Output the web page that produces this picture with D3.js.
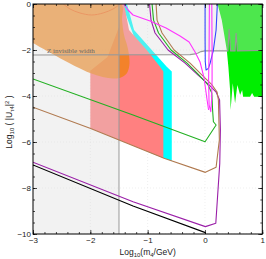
<!DOCTYPE html>
<html><head><meta charset="utf-8">
<script src="https://cdn.jsdelivr.net/npm/d3@7"></script>
<style>body{margin:0;background:#fff}svg{display:block}</style>
</head><body><svg id="c" width="266" height="259"></svg>
<script>
const xTicks=[-3,-2,-1,0,1];
const yTicks=[0,-2,-4,-6,-8,-10];
const zLine=[[-3,-2.22],[-0.26,-2.20],[-0.17,-2.17],[-0.12,-2.13],[-0.07,-2.07],[0.0,-2.04],[0.40,-2.04],[0.421,-1.09],[0.447,-2.04],[0.525,-2.04],[0.543,-1.26],[0.565,-2.04],[1,-2.02]];
const zCut=-1.5;
const orangeRegion=[[-3,0],[-1.464,0],[-1.447,-0.696],[-1.412,-1.348],[-1.36,-1.783],[-1.325,-2.217],[-1.319,-2.652],[-1.36,-3.0],[-1.447,-3.174],[-1.604,-3.239],[-2.005,-3.0],[-3,-1.696]];
const redRegion=[[-1.412,0],[-1.325,-1.13],[-1.016,-2.0],[-0.784,-2.73],[-0.726,-2.94],[-0.726,-6.70],[-2.0,-5.40],[-2.0,-2.9],[-1.7,-2.3],[-1.5,-1.0],[-1.48,0]];
const cyanRegion=[[-1.45,0],[-1.36,0],[-1.237,-1.13],[-0.928,-2.0],[-0.667,-2.73],[-0.579,-2.94],[-0.579,-6.83],[-1.0,-6.42],[-1.0,-3.0]];
const greenRegion=[[0.22,0],[0.293,-0.696],[0.351,-1.565],[0.38,-2.0],[0.408,-2.73],[0.438,-3.74],[0.447,-4.61],[0.485,-3.45],[0.525,-4.32],[0.565,-3.52],[0.613,-3.96],[0.648,-3.74],[0.665,-4.03],[0.787,-4.03],[0.822,-3.87],[0.857,-4.03],[1,-4.03],[1,0]];
const greenLine=[[-3,-3.26],[-1.255,-4.83],[0.002,-5.99],[0.194,-5.26],[0.147,-5.12],[0.133,-4.61],[0.119,-3.87],[0.054,-3.52],[-0.103,-3.09],[-0.312,-2.57],[-0.592,-2.0],[-0.810,-1.26],[-0.897,-0.70],[-0.923,0]];
const brownLine=[[-3,-4.49],[-2.005,-5.40],[-0.714,-6.71],[0.007,-7.32],[0.194,-7.10],[0.251,-5.91],[0.234,-4.17],[0.211,-3.83],[0.124,-3.52],[-0.051,-3.09],[-0.26,-2.57],[-0.539,-2.0],[-0.749,-1.26],[-0.836,-0.70],[-0.853,0]];
const purpleLine=[[-3,-6.88],[-1.255,-8.60],[0.007,-9.68],[0.189,-9.53],[0.258,-6.93],[0.269,-5.48],[0.255,-4.17],[0.194,-3.83],[0.072,-3.52],[-0.120,-3.09],[-0.347,-2.57],[-0.644,-2.0],[-0.871,-1.26],[-0.941,-0.70],[-0.967,0]];
const blackLine=[[-3,-7.0],[-1.255,-8.78],[0.007,-9.94]];
const blueLine=[[0.002,0],[0.002,-1.5],[0.005,-2.5],[0.019,-2.87],[0.06,-2.8],[0.089,-2.58],[0.147,-2.0],[0.194,-1.13],[0.216,0]];
const magentaA=[[-1.412,0],[-1.342,-0.261],[-1.255,-0.478],[-0.958,-0.739],[-0.679,-1.043],[-0.435,-1.391],[-0.277,-1.652],[-0.173,-2.087],[-0.086,-2.522],[-0.016,-3.217],[0.037,-4.174],[0.063,-4.609]];
const magentaB=[[0.077,0],[0.072,-2.0],[0.063,-3.304],[0.072,-4.391],[0.101,-4.683],[0.115,-4.174],[0.124,-3.304],[0.124,-2.0],[0.119,0]];
const magentaArc=[[-2.47,0],[-2.354,-0.217],[-2.18,-0.391],[-1.976,-0.478],[-1.778,-0.391],[-1.604,-0.217],[-1.482,0]];

const svg=d3.select("#c");
const L=33,R=262.3,T=4,B=234;
const x=d3.scaleLinear().domain([-3,1]).range([L,R]);
const y=d3.scaleLinear().domain([-10,0]).range([B,T]);
const line=d3.line().x(d=>x(d[0])).y(d=>y(d[1]));
const smooth=d3.line().x(d=>x(d[0])).y(d=>y(d[1])).curve(d3.curveCatmullRom);

svg.append("defs").append("clipPath").attr("id","pc").append("rect").attr("x",L).attr("y",T).attr("width",R-L).attr("height",B-T);
const g=svg.append("g").attr("clip-path","url(#pc)");
g.append("rect").attr("x",L).attr("y",T).attr("width",R-L).attr("height",B-T).attr("fill","#fff");

g.selectAll(".gx").data(xTicks).join("line").attr("x1",d=>x(d)).attr("x2",d=>x(d)).attr("y1",T).attr("y2",B).attr("stroke","#e4e4e4").attr("stroke-width",0.6).attr("stroke-dasharray","1,2");
g.selectAll(".gy").data(yTicks).join("line").attr("y1",d=>y(d)).attr("y2",d=>y(d)).attr("x1",L).attr("x2",R).attr("stroke","#e4e4e4").attr("stroke-width",0.6).attr("stroke-dasharray","1,2");

g.append("path").attr("d",line(greenRegion)+"Z").attr("fill","#00ee00");
g.append("path").attr("d",line(cyanRegion)+"Z").attr("fill","#00ffff");
g.append("path").attr("d",line(redRegion)+"Z").attr("fill","#ff8080");
g.append("path").attr("d",smooth(magentaArc)).attr("fill","none").attr("stroke","#ff3060").attr("stroke-width",1);
g.append("path").attr("d",smooth(orangeRegion)+"Z").attr("fill","rgb(240,130,20)").attr("fill-opacity",0.8);

const zRight=zLine.filter(d=>d[0]>zCut).slice().reverse();
const grayPoly=[[-3,0],[1,0],...zRight,[zCut,-2.21],[zCut,-10],[-3,-10]];
g.append("path").attr("d",line(grayPoly)+"Z").attr("fill","rgb(218,218,218)").attr("fill-opacity",0.354);

g.append("line").attr("x1",x(zCut)).attr("x2",x(zCut)).attr("y1",T).attr("y2",B).attr("stroke","#999").attr("stroke-width",1);
g.append("path").attr("d",line(zLine)).attr("fill","none").attr("stroke","#999").attr("stroke-width",1.1);

const curves=[[blackLine,"#000"],[purpleLine,"#9a1fa8"],[brownLine,"#b07a50"],[greenLine,"#22b022"],[blueLine,"#3344ff"],[magentaA,"#ff33ff"],[magentaB,"#ff33ff"]];
curves.forEach(([d,c])=>g.append("path").attr("d",line(d)).attr("fill","none").attr("stroke",c).attr("stroke-width",1.1).attr("stroke-linejoin","round"));

svg.append("text").attr("x",47).attr("y",53).attr("font-family","Liberation Serif, serif").attr("font-size",7).attr("fill","#666").text("Z invisible width");

svg.append("rect").attr("x",L).attr("y",T).attr("width",R-L).attr("height",B-T).attr("fill","none").attr("stroke","#000").attr("stroke-width",1);
const xMinor=d3.range(-3,1.001,0.2).map(v=>+v.toFixed(2));
const yMinor=d3.range(-10,0.001,0.5).map(v=>+v.toFixed(2));
const fmt=d3.format("d");
function ax(gen,tr){return svg.append("g").attr("transform",tr).call(gen).call(s=>s.select(".domain").remove()).call(s=>s.selectAll("text").attr("font-family","Liberation Sans, Arial, sans-serif").attr("font-size",8).attr("fill","#222"));}
ax(d3.axisBottom(x).tickValues(xMinor).tickSize(-2).tickFormat(""),`translate(0,${B})`);
ax(d3.axisBottom(x).tickValues(xTicks).tickSize(-4).tickPadding(3).tickFormat(fmt),`translate(0,${B})`);
ax(d3.axisTop(x).tickValues(xMinor).tickSize(-2).tickFormat(""),`translate(0,${T})`);
ax(d3.axisTop(x).tickValues(xTicks).tickSize(-4).tickFormat(""),`translate(0,${T})`);
ax(d3.axisLeft(y).tickValues(yMinor).tickSize(-2).tickFormat(""),`translate(${L},0)`);
ax(d3.axisLeft(y).tickValues(yTicks).tickSize(-4).tickPadding(2).tickFormat(fmt),`translate(${L},0)`);
ax(d3.axisRight(y).tickValues(yMinor).tickSize(-2).tickFormat(""),`translate(${R},0)`);
ax(d3.axisRight(y).tickValues(yTicks).tickSize(-4).tickFormat(""),`translate(${R},0)`);
svg.selectAll(".tick line").attr("stroke","#000").attr("stroke-width",0.7);

const xt=svg.append("text").attr("x",(L+R)/2).attr("y",255).attr("text-anchor","middle").attr("font-family","Liberation Sans, Arial, sans-serif").attr("font-size",8.5).attr("fill","#222");
xt.append("tspan").text("Log");xt.append("tspan").attr("font-size",6).attr("dy",2).text("10");xt.append("tspan").attr("dy",-2).text("(m");xt.append("tspan").attr("font-size",6).attr("dy",2).text("4");xt.append("tspan").attr("dy",-2).text("/GeV)");
const yt=svg.append("text").attr("transform","translate(12,122) rotate(-90)").attr("text-anchor","middle").attr("font-family","Liberation Sans, Arial, sans-serif").attr("font-size",8.5).attr("fill","#222");
yt.append("tspan").text("Log");yt.append("tspan").attr("font-size",6).attr("dy",2).text("10");yt.append("tspan").attr("dy",-2).text(" ( |U");yt.append("tspan").attr("font-size",6).attr("dy",2).text("τ4");yt.append("tspan").attr("dy",-2).text("|");yt.append("tspan").attr("font-size",6).attr("dy",-3).text("2");yt.append("tspan").attr("dy",3).text(" )");
</script></body></html>
